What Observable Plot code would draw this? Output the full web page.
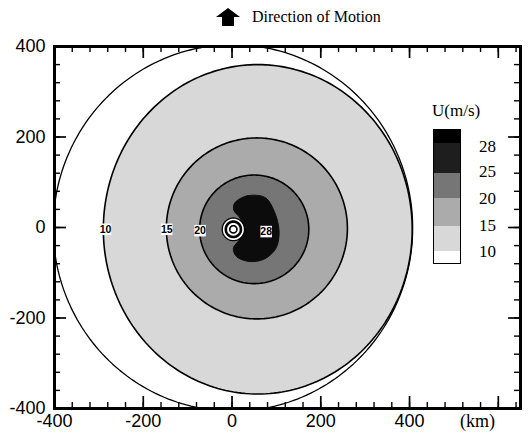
<!DOCTYPE html>
<html><head><meta charset="utf-8">
<script src="https://cdn.jsdelivr.net/npm/d3@7"></script>
<script src="https://cdn.jsdelivr.net/npm/@observablehq/plot@0.6"></script>
<style>
body{margin:0;background:#fff;}
#wrap{position:relative;width:528px;height:441px;overflow:hidden;font-family:"Liberation Serif","Times New Roman",serif;color:#000;background:#fff;}
#title{position:absolute;left:216px;top:6px;height:22px;display:flex;align-items:center;font-size:16px;white-space:nowrap;}
#title svg{margin-right:12px;}
#legendTitle{position:absolute;left:432px;top:101px;font-size:17px;white-space:nowrap;}
#legendBar{position:absolute;left:433px;top:129px;width:26px;border:1.5px solid #000;}
.lab{position:absolute;left:479px;font-size:17px;line-height:16px;}
#km{position:absolute;left:460px;top:411px;font-size:18px;}
</style></head>
<body><div id="wrap"></div>
<script>
// Contours of wind speed U (m/s): centre and radii in km
const levels = [10, 15, 20];
const contourCx = [58, 56, 50];
const contourCy = [-4, -2, -4];
const contourRx = [348, 204, 123];
const contourRy = [364, 200, 120];
const bandColors = ["#d8d8d8", "#ababab", "#767676"];
// Outer unlabeled circle
const outerCx = 2, outerCy = -1, outerR = 405;
// 25 m/s crescent (km)
const coreX = [6, 34, 75, 95, 106, 99, 72, 38, 10, 3, 18, 26, 18, 4];
const coreY = [54, 70, 66, 36, -7, -46, -70, -75, -64, -46, -25, -3, 21, 38];
const coreColor = "#0c0c0c";
// Eye
const eyeX = 3, eyeY = -4;
const eyeRadii = [25, 17, 8];
// Contour labels
const labelText = ["10", "15", "20", "28"];
const labelX = [-285, -147, -72, 77];
const labelY = [-4, -4, -7, -9];
// Axes
const xLabels = [-400, -200, 0, 200, 400];
const xMajor = [-400, -200, 0, 200, 400, 600];
const yMajor = [-400, -200, 0, 200, 400];
const xMinor = d3.range(-400, 651, 40);
const yMinor = d3.range(-400, 401, 40);
// Legend
const legendLabels = [28, 25, 20, 15, 10];
const legendColors = ["#000000", "#1e1e1e", "#767676", "#ababab", "#d8d8d8", "#ffffff"];

const W = 528, H = 441, ML = 54, MR = 8, MT = 46, MB = 33;
const FW = W - ML - MR, FH = H - MT - MB;
const SANS = "Liberation Sans, Arial, sans-serif";

function ellipse(id, cx, cy, rx, ry, n = 240) {
  return d3.range(n).map(i => {
    const a = 2 * Math.PI * i / n;
    return {id, x: cx + rx * Math.cos(a), y: cy + ry * Math.sin(a)};
  });
}
const discs = levels.map((l, i) => ellipse(l, contourCx[i], contourCy[i], contourRx[i], contourRy[i]));
const outer = ellipse("outer", outerCx, outerCy, outerR, outerR);
const core = coreX.map((x, i) => ({x, y: coreY[i]}));
const eyes = eyeRadii.map(r => ellipse("eye" + r, eyeX, eyeY, r, r, 90));
const labels = labelText.map((t, i) => ({t, x: labelX[i], y: labelY[i]}));

const marks = [];
marks.push(Plot.line(outer, {x: "x", y: "y", curve: "linear-closed", stroke: "#000", strokeWidth: 1.3, clip: true}));
discs.forEach((d, i) => marks.push(Plot.line(d, {x: "x", y: "y", curve: "linear-closed", fill: bandColors[i], stroke: "#000", strokeWidth: 1.6, clip: true})));
marks.push(Plot.line(core, {x: "x", y: "y", curve: "catmull-rom-closed", fill: coreColor, stroke: coreColor, strokeWidth: 1}));
marks.push(Plot.line(eyes[0], {x: "x", y: "y", curve: "linear-closed", fill: "#fff", stroke: "#000", strokeWidth: 1.3}));
marks.push(Plot.line(eyes[1], {x: "x", y: "y", curve: "linear-closed", fill: "#fff", stroke: "#000", strokeWidth: 2.6}));
marks.push(Plot.line(eyes[2], {x: "x", y: "y", curve: "linear-closed", fill: "#fff", stroke: "#000", strokeWidth: 1.6}));
marks.push(Plot.dot(labels, {x: "x", y: "y", symbol: "square", r: 6.5, fill: "#fff"}));
marks.push(Plot.text(labels, {x: "x", y: "y", text: "t", fontSize: 10.5, fontWeight: "bold", fill: "#000", fontFamily: SANS}));
// tick labels
marks.push(Plot.axisX({anchor: "bottom", ticks: xLabels, tickSize: 0, tickPadding: 6, label: null, fontSize: 18, fontFamily: SANS, fill: "#000", tickFormat: d => String(d)}));
marks.push(Plot.axisY({anchor: "left", ticks: yMajor, tickSize: 0, tickPadding: 9, label: null, fontSize: 18, fontFamily: SANS, fill: "#000", tickFormat: d => String(d)}));
marks.push(Plot.frame({stroke: "#000", strokeWidth: 3}));
// inward ticks on all four sides (drawn last)
for (const [vals, len, sw] of [[xMinor, 6, 1.4], [xMajor, 12, 1.7]]) {
  marks.push(Plot.tickX(vals, {x: d => d, insetTop: FH - len, stroke: "#000", strokeWidth: sw}));
  marks.push(Plot.tickX(vals, {x: d => d, insetBottom: FH - len, stroke: "#000", strokeWidth: sw}));
}
for (const [vals, len, sw] of [[yMinor, 6, 1.4], [yMajor, 12, 1.7]]) {
  marks.push(Plot.tickY(vals, {y: d => d, insetRight: FW - len, stroke: "#000", strokeWidth: sw}));
  marks.push(Plot.tickY(vals, {y: d => d, insetLeft: FW - len, stroke: "#000", strokeWidth: sw}));
}

const chart = Plot.plot({
  width: W, height: H,
  marginLeft: ML, marginRight: MR, marginTop: MT, marginBottom: MB,
  x: {domain: [-400, 650]},
  y: {domain: [-400, 400]},
  marks
});
const wrap = document.getElementById("wrap");
wrap.appendChild(chart);

// Title
const title = document.createElement("div");
title.id = "title";
title.innerHTML = '<svg width="24" height="18" viewBox="0 0 24 18"><polygon points="12,0 24,9 18,9 18,18 6,18 6,9 0,9" fill="#000"/></svg><span>Direction of Motion</span>';
wrap.appendChild(title);

// Legend
const lt = document.createElement("div");
lt.id = "legendTitle"; lt.textContent = "U(m/s)";
wrap.appendChild(lt);
const bar = document.createElement("div");
bar.id = "legendBar";
const segH = [13, 30, 25, 28, 25, 12];
legendColors.forEach((c, i) => {
  const s = document.createElement("div");
  s.style.height = segH[i] + "px"; s.style.background = c;
  bar.appendChild(s);
});
wrap.appendChild(bar);
const labTops = [147, 172, 199, 226, 252];
legendLabels.forEach((l, i) => {
  const d = document.createElement("div");
  d.className = "lab"; d.textContent = l;
  d.style.top = (labTops[i] - 8) + "px";
  wrap.appendChild(d);
});
const km = document.createElement("div");
km.id = "km"; km.textContent = "(km)";
wrap.appendChild(km);
</script>
</body></html>
